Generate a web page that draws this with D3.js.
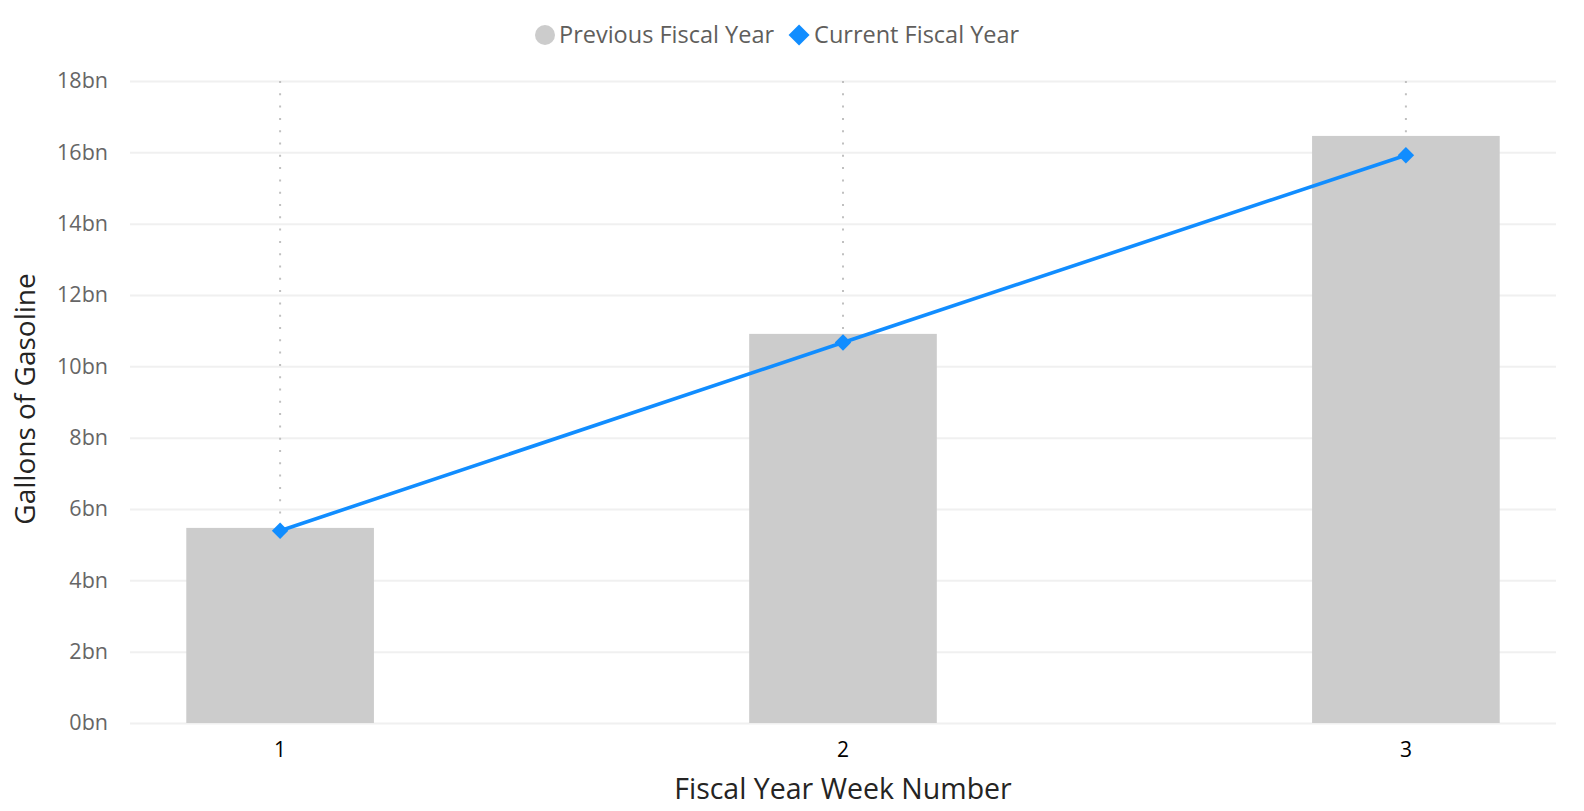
<!DOCTYPE html>
<html>
<head>
<meta charset="utf-8">
<script src="https://cdn.jsdelivr.net/npm/d3@7"></script>
<style>
  body { margin: 0; background: #fff; }
  svg { display: block; font-family: "Segoe UI", "Open Sans", sans-serif; }
</style>
</head>
<body>
<svg id="chart" width="1584" height="811"></svg>
<script>
const weeks = ['1', '2', '3'];
const previousYear = [5.47, 10.91, 16.46];
const currentYear = [5.39, 10.67, 15.92];
const yTicks = [0, 2, 4, 6, 8, 10, 12, 14, 16, 18];
const seriesNames = ['Previous Fiscal Year', 'Current Fiscal Year'];

const width = 1584;
const height = 811;
const margin = { top: 81, right: 28, bottom: 88, left: 130 };

const svg = d3.select('#chart');

const x = d3
  .scaleBand()
  .domain(weeks)
  .range([margin.left, width - margin.right])
  .paddingInner(2 / 3)
  .paddingOuter(0.1);

const y = d3
  .scaleLinear()
  .domain([0, 18])
  .range([height - margin.bottom, margin.top]);

const cx = d => x(d) + x.bandwidth() / 2;

// gridlines + y labels
const yAxis = svg
  .append('g')
  .attr('transform', `translate(${margin.left},0)`)
  .call(
    d3
      .axisLeft(y)
      .tickValues(yTicks)
      .tickSize(-(width - margin.left - margin.right))
      .tickPadding(22)
      .tickFormat(d => `${d}bn`)
  );
yAxis.select('.domain').remove();
yAxis.selectAll('line').attr('stroke', '#f0f0f0').attr('stroke-width', 2);
yAxis
  .selectAll('text')
  .attr('fill', '#666666')
  .style('font-size', '21.5px')
  .style('font-family', '"Segoe UI", "Open Sans", sans-serif');

// dotted category lines
svg
  .append('g')
  .selectAll('line')
  .data(weeks)
  .join('line')
  .attr('x1', d => cx(d))
  .attr('x2', d => cx(d))
  .attr('y1', y(18))
  .attr('y2', y(0) + 6)
  .attr('stroke', '#c0c0c0')
  .attr('stroke-width', 2)
  .attr('stroke-dasharray', '2 10.3');

// bars
svg
  .append('g')
  .selectAll('rect')
  .data(previousYear)
  .join('rect')
  .attr('x', (d, i) => x(weeks[i]))
  .attr('y', d => y(d))
  .attr('width', x.bandwidth())
  .attr('height', d => y(0) - y(d))
  .attr('fill', '#cccccc');

// x labels
const xAxis = svg
  .append('g')
  .attr('transform', `translate(0,${y(0)})`)
  .call(d3.axisBottom(x).tickSize(0).tickPadding(19));
xAxis.select('.domain').remove();
xAxis
  .selectAll('text')
  .attr('fill', '#000000')
  .style('font-size', '21px')
  .style('font-family', '"Segoe UI", "Open Sans", sans-serif');

// current year line
const line = d3
  .line()
  .x((d, i) => cx(weeks[i]))
  .y(d => y(d));

svg
  .append('path')
  .datum(currentYear)
  .attr('d', line)
  .attr('fill', 'none')
  .attr('stroke', '#118dff')
  .attr('stroke-width', 3.6);

const diamond = d3.symbol().type(d3.symbolSquare).size(135);
svg
  .append('g')
  .selectAll('path')
  .data(currentYear)
  .join('path')
  .attr('d', diamond)
  .attr('transform', (d, i) => `translate(${cx(weeks[i])},${y(d)}) rotate(45)`)
  .attr('fill', '#118dff');

// axis titles
svg
  .append('text')
  .attr('x', (margin.left + width - margin.right) / 2)
  .attr('y', 799)
  .attr('text-anchor', 'middle')
  .attr('fill', '#252423')
  .style('font-size', '28.5px')
  .text('Fiscal Year Week Number');

svg
  .append('text')
  .attr('transform', `translate(35,399) rotate(-90)`)
  .attr('text-anchor', 'middle')
  .attr('fill', '#252423')
  .style('font-size', '28px')
  .text('Gallons of Gasoline');

// legend
const legend = svg.append('g').attr('transform', 'translate(0,35)');
legend
  .append('circle')
  .attr('cx', 545)
  .attr('cy', 0)
  .attr('r', 10)
  .attr('fill', '#cccccc');
const prevText = legend
  .append('text')
  .attr('x', 559)
  .attr('y', 0)
  .attr('dy', '0.35em')
  .attr('fill', '#605e5c')
  .style('font-size', '23.5px')
  .text(seriesNames[0]);
const prevEnd = 559 + prevText.node().getComputedTextLength();
legend
  .append('path')
  .attr('d', d3.symbol().type(d3.symbolSquare).size(220))
  .attr('transform', `translate(${prevEnd + 25},0) rotate(45)`)
  .attr('fill', '#118dff');
legend
  .append('text')
  .attr('x', prevEnd + 40)
  .attr('y', 0)
  .attr('dy', '0.35em')
  .attr('fill', '#605e5c')
  .style('font-size', '23.5px')
  .text(seriesNames[1]);
</script>
</body>
</html>
